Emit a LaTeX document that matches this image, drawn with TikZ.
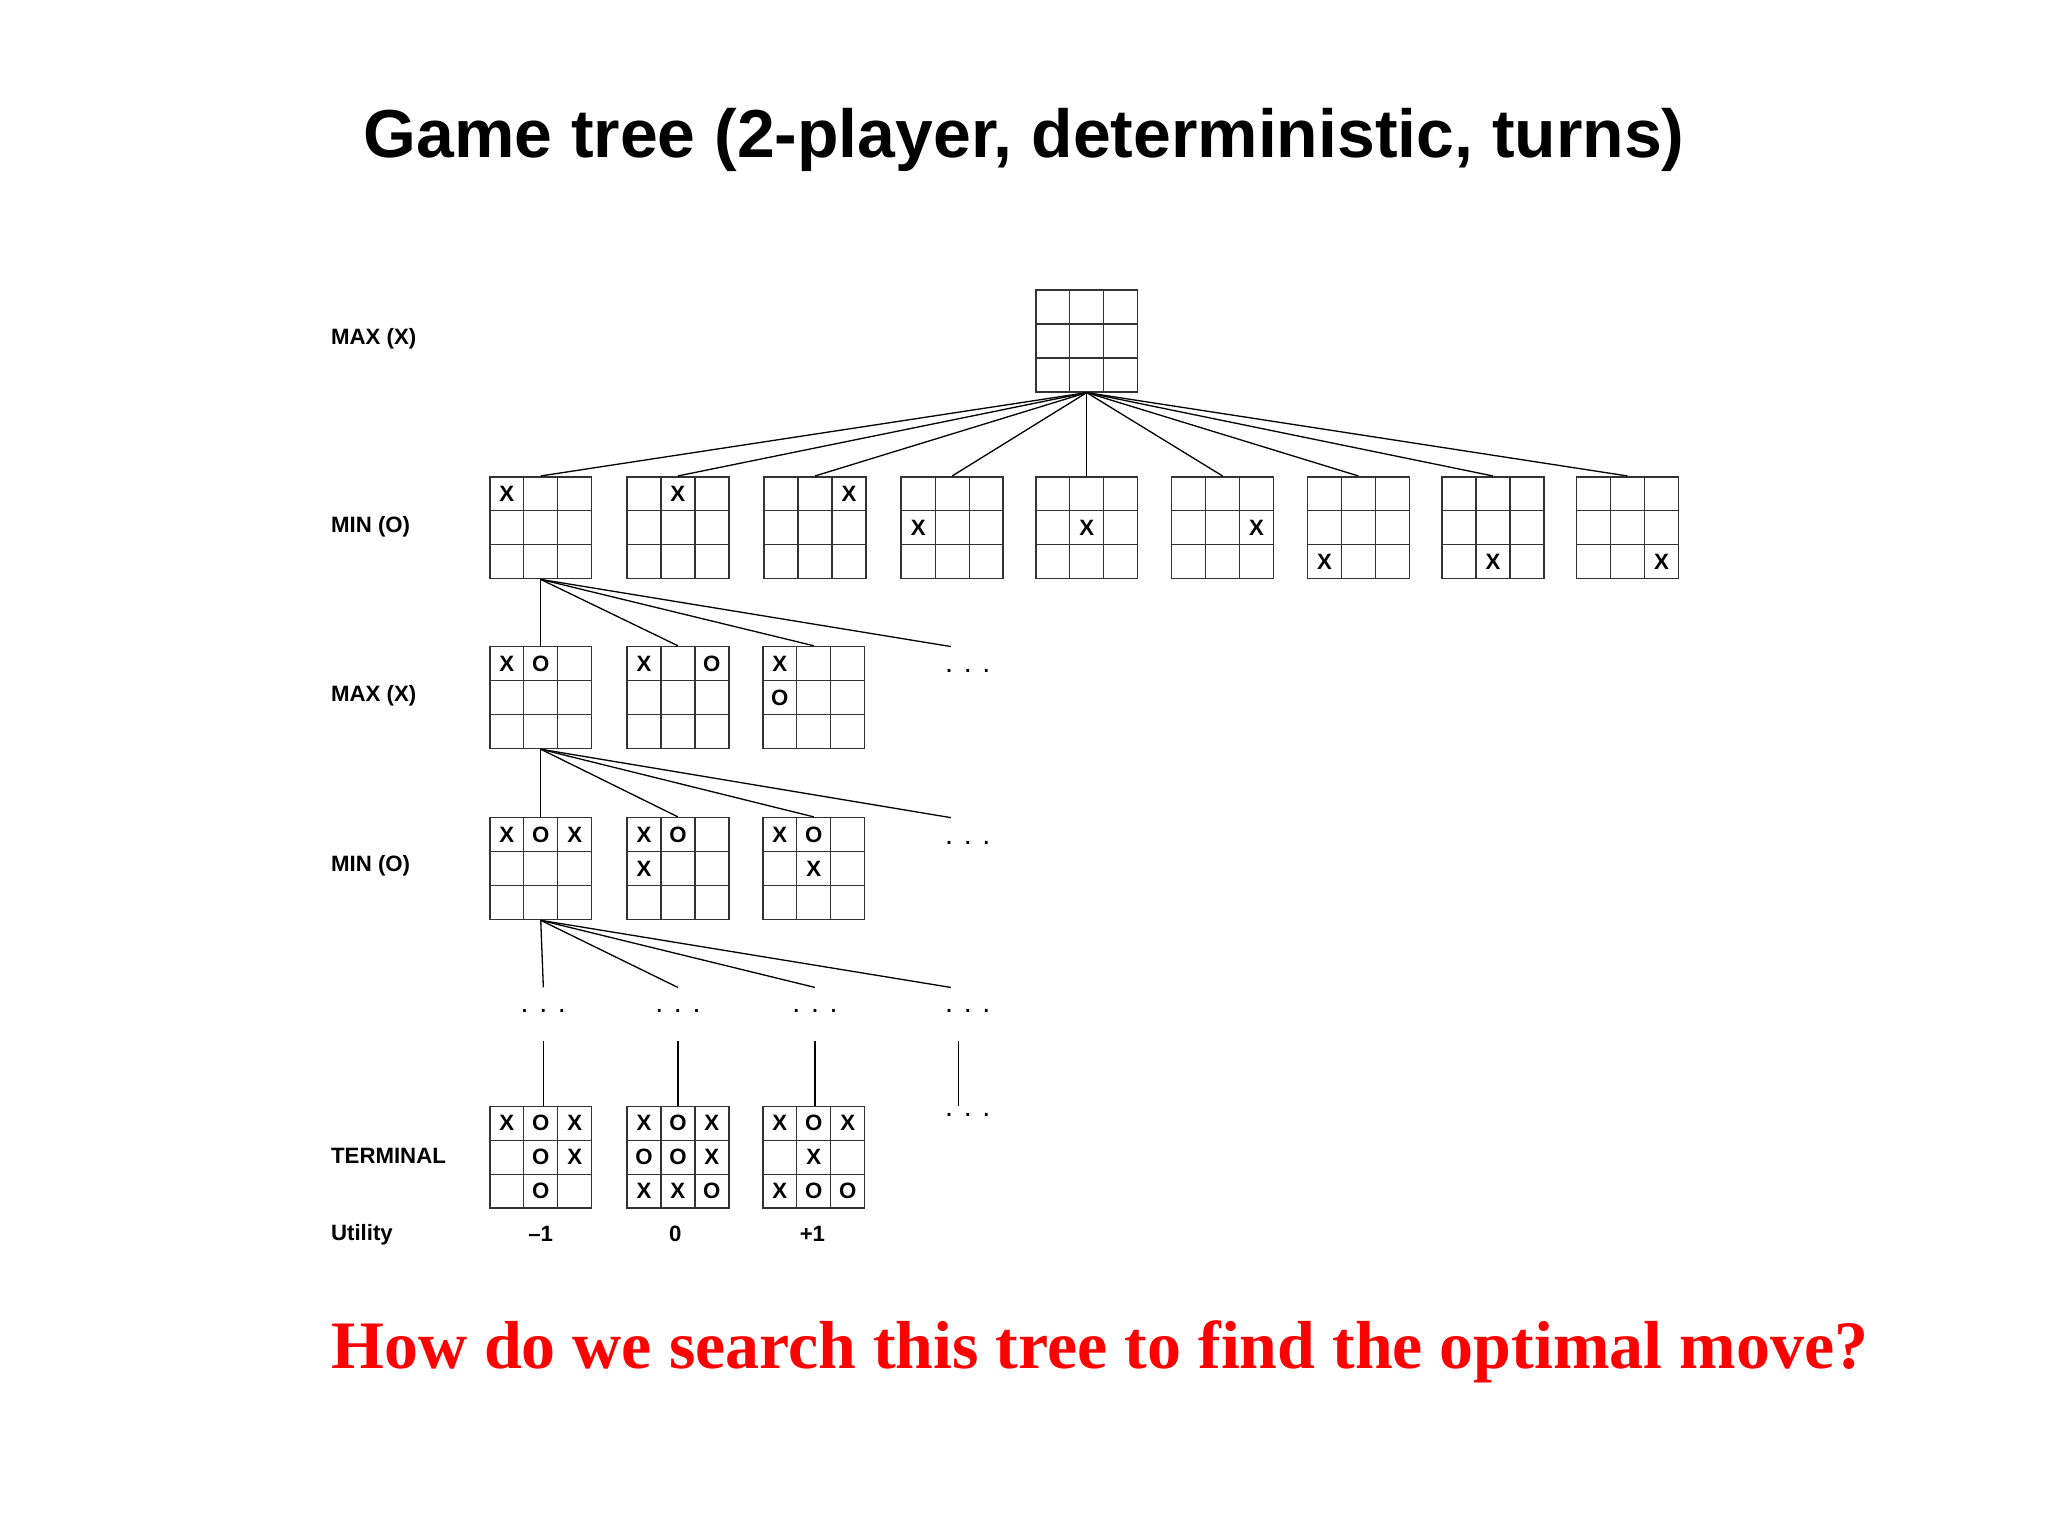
\documentclass[tikz,border=0pt]{standalone}
\usepackage{fontspec}
\setmainfont{Liberation Sans}
\newfontfamily\serifbold{Liberation Serif}
\begin{document}
\begin{tikzpicture}[x=1pt,y=-1pt,
  board/.style={draw=black!80,line width=1.2pt,minimum size=78pt,inner sep=0pt},
  mk/.style={font=\fontsize{17}{17}\selectfont\bfseries},
  lbl/.style={anchor=west,font=\fontsize{17}{17}\selectfont\bfseries},
  conn/.style={line width=1pt},
  dotsn/.style={font=\fontsize{22}{22}\selectfont}]
\useasboundingbox (0,0) rectangle (1568,1176);
\newcommand{\bd}[4]{%
  \node[board] (#1) at (#2,#3) {};
  \draw[black!80,line width=1pt] (#2-13,#3-39) -- (#2-13,#3+39) (#2+13,#3-39) -- (#2+13,#3+39)
     (#2-39,#3-13) -- (#2+39,#3-13) (#2-39,#3+13) -- (#2+39,#3+13);
  \foreach \r/\c/\m in {#4} {\node[mk] at (#2-26+26*\c,#3-26+26*\r) {\m};}}
\node[font=\fontsize{52}{52}\selectfont\bfseries] (title) at (784,107) {Game tree (2-player, deterministic, turns)};
\node[lbl] (l0) at (250,259) {MAX (X)};
\node[lbl] (l1) at (250,403) {MIN (O)};
\node[lbl] (l2) at (250,533) {MAX (X)};
\node[lbl] (l3) at (250,663) {MIN (O)};
\node[lbl] (l4) at (250,885) {TERMINAL};
\node[lbl] (l5) at (250,945) {Utility};
% root
\bd{root}{832}{261}{}
% level 1
\bd{a0}{414}{404}{0/0/X}
\bd{a1}{519}{404}{0/1/X}
\bd{a2}{624}{404}{0/2/X}
\bd{a3}{729}{404}{1/0/X}
\bd{a4}{832}{404}{1/1/X}
\bd{a5}{936}{404}{1/2/X}
\bd{a6}{1040}{404}{2/0/X}
\bd{a7}{1143}{404}{2/1/X}
\bd{a8}{1246}{404}{2/2/X}
\foreach \n in {a0,a1,a2,a3,a4,a5,a6,a7,a8} \draw[conn] (root.south) -- (\n.north);
% level 2
\bd{b0}{414}{534}{0/0/X,0/1/O}
\bd{b1}{519}{534}{0/0/X,0/2/O}
\bd{b2}{623}{534}{0/0/X,1/0/O}
\coordinate (bf) at (728,495);
\foreach \n in {b0,b1,b2} \draw[conn] (a0.south) -- (\n.north);
\draw[conn] (a0.south) -- (bf);
\node[dotsn] (bd) at (741,514) {. . .};
% level 3
\bd{c0}{414}{665}{0/0/X,0/1/O,0/2/X}
\bd{c1}{519}{665}{0/0/X,0/1/O,1/0/X}
\bd{c2}{623}{665}{0/0/X,0/1/O,1/1/X}
\coordinate (cf) at (728,626);
\foreach \n in {c0,c1,c2} \draw[conn] (b0.south) -- (\n.north);
\draw[conn] (b0.south) -- (cf);
\node[dotsn] (cd) at (741,645) {. . .};
% dots level
\coordinate (d0) at (416,756);
\coordinate (d1) at (519,756);
\coordinate (d2) at (624,756);
\coordinate (d3) at (728,756);
\foreach \n in {d0,d1,d2,d3} \draw[conn] (c0.south) -- (\n);
\node[dotsn] (e0) at (416,774) {. . .};
\node[dotsn] (e1) at (519,774) {. . .};
\node[dotsn] (e2) at (624,774) {. . .};
\node[dotsn] (e3) at (741,774) {. . .};
% terminal
\bd{t0}{414}{886}{0/0/X,0/1/O,0/2/X,1/1/O,1/2/X,2/1/O}
\bd{t1}{519}{886}{0/0/X,0/1/O,0/2/X,1/0/O,1/1/O,1/2/X,2/0/X,2/1/X,2/2/O}
\bd{t2}{623}{886}{0/0/X,0/1/O,0/2/X,1/1/X,2/0/X,2/1/O,2/2/O}
\draw[conn] (416,797) -- (416,847);
\draw[conn] (519,797) -- (519,847);
\draw[conn] (624,797) -- (624,847);
\coordinate (f0) at (734,797);
\coordinate (f1) at (734,847);
\draw[conn] (f0) -- (f1);
\node[dotsn] (fd) at (741,854) {. . .};
\node[lbl,anchor=center] (u0) at (414,945) {--1};
\node[lbl,anchor=center] (u1) at (517,945) {0};
\node[lbl,anchor=center] (u2) at (622,945) {+1};
\node[text=red,font=\fontsize{52}{52}\serifbold\bfseries] (q) at (842,1035) {How do we search this tree to find the optimal move?};
\end{tikzpicture}
\end{document}
